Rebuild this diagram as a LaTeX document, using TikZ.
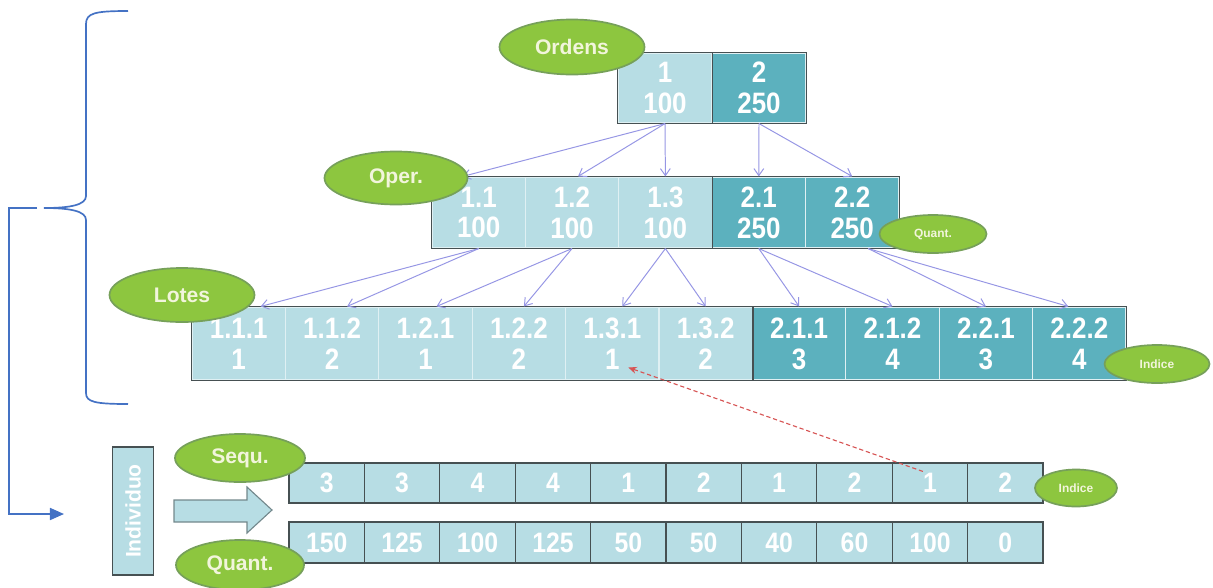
\documentclass[tikz,border=0pt]{standalone}
\usepackage{fontspec}
\setmainfont{Liberation Sans}
\newfontfamily\cellsans[FakeStretch=0.88]{Liberation Sans}
\usetikzlibrary{shapes.geometric,arrows.meta}
\definecolor{cellA}{RGB}{183,221,228}
\definecolor{cellB}{RGB}{92,177,190}
\definecolor{rim}{RGB}{70,80,82}
\definecolor{leaf}{RGB}{141,198,63}
\definecolor{leafrim}{RGB}{118,160,90}
\definecolor{leaftext}{RGB}{242,245,220}
\definecolor{linkblue}{RGB}{150,150,228}
\definecolor{bracecol}{RGB}{68,114,196}
\definecolor{tracered}{RGB}{215,85,85}

\begin{document}
\begin{tikzpicture}[x=0.025cm,y=-0.025cm,
		cell/.style={draw=white!55!cellA,line width=0.8pt,minimum width=2.335cm,inner sep=0pt,align=center,text=white,font=\cellsans\bfseries\fontsize{21}{22}\selectfont},
		lite/.style={cell,fill=cellA},
		dark/.style={cell,fill=cellB},
		slot/.style={draw=rim,line width=0.8pt,fill=cellA,minimum width=1.885cm,minimum height=1cm,inner sep=0pt,text=white,font=\cellsans\bfseries\fontsize{20}{20}\selectfont},
		rowframe/.style={draw=rim,line width=0.9pt},
		tag/.style={ellipse,draw=leafrim,line width=1.2pt,fill=leaf,text=leaftext,inner sep=0pt,font=\bfseries\fontsize{15}{15}\selectfont},
		tagsmall/.style={tag,font=\bfseries\fontsize{8.5}{8.5}\selectfont},
		link/.style={draw=linkblue,line width=0.7pt,-{Straight Barb[length=5pt,width=7pt]}},
		trace/.style={draw=tracered,line width=0.8pt,dash pattern=on 3pt off 2pt,-{Stealth[length=6pt,width=5pt]}},
		feed/.style={draw=bracecol,line width=1.2pt}]
		\useasboundingbox (0,0) rectangle (1213,587);

		% orders
		\node[lite,minimum height=1.75cm] (t1)at(665,88) {1\\100};
		\node[dark,minimum height=1.75cm] (t2)at(759,88) {2\\250};
		\draw[rowframe] (t1.north west) rectangle (t2.south east);
		\draw[rowframe] (t1.north east) -- (t1.south east);

		% operations
		\node[lite,minimum height=1.775cm] (o11)at(478.7,212.5) {1.1\\100};
		\node[lite,minimum height=1.775cm] (o12)at(572,212.5) {1.2\\100};
		\node[lite,minimum height=1.775cm] (o13)at(665.4,212.5) {1.3\\100};
		\node[dark,minimum height=1.775cm] (o21)at(758.8,212.5) {2.1\\250};
		\node[dark,minimum height=1.775cm] (o22)at(852.2,212.5) {2.2\\250};
		\draw[rowframe] (o11.north west) rectangle (o22.south east);
		\draw[rowframe] (o13.north east) -- (o13.south east);

		% lots
		\node[lite,minimum height=1.825cm] (l111)at(238.7,343.5) {1.1.1\\1};
		\node[lite,minimum height=1.825cm] (l112)at(332.1,343.5) {1.1.2\\2};
		\node[lite,minimum height=1.825cm] (l121)at(425.5,343.5) {1.2.1\\1};
		\node[lite,minimum height=1.825cm] (l122)at(518.9,343.5) {1.2.2\\2};
		\node[lite,minimum height=1.825cm] (l131)at(612.3,343.5) {1.3.1\\1};
		\node[lite,minimum height=1.825cm] (l132)at(705.7,343.5) {1.3.2\\2};
		\node[dark,minimum height=1.825cm] (l211)at(799.1,343.5) {2.1.1\\3};
		\node[dark,minimum height=1.825cm] (l212)at(892.5,343.5) {2.1.2\\4};
		\node[dark,minimum height=1.825cm] (l221)at(985.9,343.5) {2.2.1\\3};
		\node[dark,minimum height=1.825cm] (l222)at(1079.3,343.5) {2.2.2\\4};
		\draw[rowframe] (l111.north west) rectangle (l222.south east);
		\draw[rowframe] (l132.north east) -- (l132.south east);

		% sequence and quantities of the individual
		\node[slot] (s1)at(326.7,483) {3};
		\node[slot] (s2)at(402.1,483) {3};
		\node[slot] (s3)at(477.5,483) {4};
		\node[slot] (s4)at(552.9,483) {4};
		\node[slot] (s5)at(628.3,483) {1};
		\node[slot] (s6)at(703.7,483) {2};
		\node[slot] (s7)at(779.1,483) {1};
		\node[slot] (s8)at(854.5,483) {2};
		\node[slot] (s9)at(929.9,483) {1};
		\node[slot] (s10)at(1005.3,483) {2};

		\node[slot,minimum height=1.025cm] (q1)at(326.7,542.5) {150};
		\node[slot,minimum height=1.025cm] (q2)at(402.1,542.5) {125};
		\node[slot,minimum height=1.025cm] (q3)at(477.5,542.5) {100};
		\node[slot,minimum height=1.025cm] (q4)at(552.9,542.5) {125};
		\node[slot,minimum height=1.025cm] (q5)at(628.3,542.5) {50};
		\node[slot,minimum height=1.025cm] (q6)at(703.7,542.5) {50};
		\node[slot,minimum height=1.025cm] (q7)at(779.1,542.5) {40};
		\node[slot,minimum height=1.025cm] (q8)at(854.5,542.5) {60};
		\node[slot,minimum height=1.025cm] (q9)at(929.9,542.5) {100};
		\node[slot,minimum height=1.025cm] (q10)at(1005.3,542.5) {0};

		\node[slot,rotate=90,minimum width=3.2cm,minimum height=1.025cm,font=\bfseries\fontsize{15}{15}\selectfont] (indiv)at(133,511) {Individuo};
		\filldraw[fill=cellA,draw=rim!60!cellA,line width=0.8pt] (174,500) -- (247,500) -- (247,487) -- (272,510) -- (247,533) -- (247,522) -- (174,522) -- cycle;

		% tree links
		\draw[link] (t1.south) -- ([xshift=-0.4cm]o11.north);
		\draw[link] (t1.south) -- ([xshift=0.15cm]o12.north);
		\draw[link] (t1.south) -- (o13.north);
		\draw[link] (t2.south) -- (o21.north);
		\draw[link] (t2.south) -- (o22.north);

		\draw[link] (o11.south) -- ([xshift=0.55cm]l111.north);
		\draw[link] (o11.south) -- ([xshift=0.375cm]l112.north);
		\draw[link] (o12.south) -- ([xshift=0.275cm]l121.north);
		\draw[link] (o12.south) -- ([xshift=0.125cm]l122.north);
		\draw[link] (o13.south) -- ([xshift=0.25cm]l131.north);
		\draw[link] (o13.south) -- (l132.north);
		\draw[link] (o21.south) -- (l211.north);
		\draw[link] (o21.south) -- (l212.north);
		\draw[link] ([xshift=0.4cm]o22.south) -- (l221.north);
		\draw[link] ([xshift=0.4cm]o22.south) -- ([xshift=-0.275cm]l222.north);

		\draw[trace] ([xshift=-0.175cm,yshift=-0.225cm]s9.north) -- ([xshift=0.4cm,yshift=-0.6cm]l131.center);

		% labels
		\node[tag,minimum width=3.625cm,minimum height=1.375cm] (ordens)at(572,47) {Ordens};
		\node[tag,minimum width=3.575cm,minimum height=1.325cm] (oper)at(396,178) {Oper.};
		\node[tag,minimum width=3.625cm,minimum height=1.35cm] (lotes)at(182,295) {Lotes};
		\node[tagsmall,minimum width=2.675cm,minimum height=0.95cm] (quantA)at(933,234) {Quant.};
		\node[tagsmall,minimum width=2.625cm,minimum height=0.95cm] (indiceA)at(1157,364) {Indice};
		\node[tag,minimum width=3.25cm,minimum height=1.2cm] (sequ)at(240,458) {Sequ.};
		\node[tag,minimum width=3.2cm,minimum height=1.25cm] (quantB)at(240,565) {Quant.};
		\node[tagsmall,minimum width=2.05cm,minimum height=0.925cm] (indiceB)at(1076,488) {Indice};

		% brace and return line
		\draw[feed] (128,11) .. controls (95,11) and (86,13) .. (86,24) -- (86,196) .. controls (86,205) and (70,208) .. (44,208);
		\draw[feed] (44,208) .. controls (70,208) and (86,211) .. (86,220) -- (86,393) .. controls (86,402) and (95,404) .. (128,404);
		\coordinate (pick) at (37,208);
		\coordinate (drop) at (64,514);
		\draw[feed,-{Triangle[length=0.35cm,width=0.3cm]}] (pick) -- ++(-28,0) |- (drop);
	\end{tikzpicture}
\end{document}
